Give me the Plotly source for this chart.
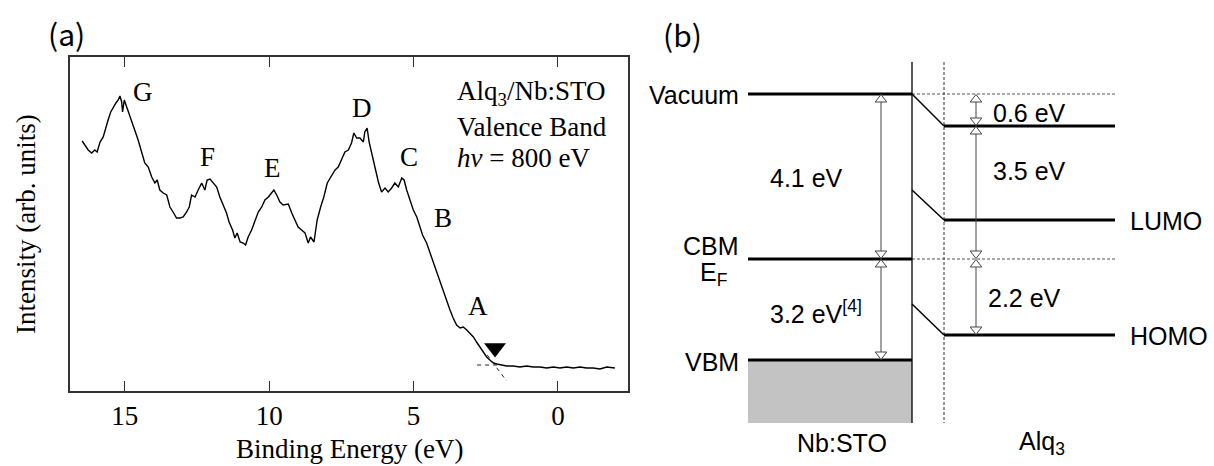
import plotly.graph_objects as go

# ---------------- Panel (a): valence-band spectrum ----------------
binding_energy = [16.48, 16.38, 16.27, 16.15, 16.04, 15.96, 15.86, 15.75, 15.66, 15.58,
                  15.49, 15.40, 15.31, 15.23, 15.17, 15.11, 15.08, 15.02, 14.96, 14.88,
                  14.77, 14.65, 14.54, 14.42, 14.31, 14.19, 14.07, 13.96, 13.88, 13.79,
                  13.67, 13.55, 13.44, 13.33, 13.21, 13.09, 12.98, 12.86, 12.77, 12.69,
                  12.57, 12.46, 12.34, 12.23, 12.15, 12.05, 11.94, 11.82, 11.71, 11.59,
                  11.48, 11.39, 11.27, 11.19, 11.11, 11.01, 10.90, 10.82, 10.73, 10.61,
                  10.50, 10.38, 10.26, 10.15, 10.03, 9.92, 9.84, 9.74, 9.63, 9.52,
                  9.34, 9.22, 9.11, 9.00, 8.88, 8.76, 8.65, 8.57, 8.45, 8.34,
                  8.22, 8.11, 7.99, 7.87, 7.72, 7.61, 7.49, 7.38, 7.26, 7.15,
                  7.07, 6.97, 6.86, 6.74, 6.69, 6.61, 6.54, 6.45, 6.34, 6.22,
                  6.11, 5.99, 5.88, 5.76, 5.65, 5.53, 5.41, 5.33, 5.24, 5.13,
                  5.01, 4.89, 4.78, 4.69, 4.55, 4.43, 4.32, 4.20, 4.09, 3.97,
                  3.86, 3.74, 3.63, 3.51, 3.39, 3.28, 3.16, 3.05, 2.93, 2.82,
                  2.70, 2.59, 2.47, 2.36, 2.24, 2.12, 1.95, 1.78, 1.55, 1.32,
                  1.08, 0.86, 0.62, 0.39, 0.16, -0.07, -0.30, -0.53, -0.76, -0.99,
                  -1.22, -1.45, -1.69, -1.97]
intensity = [251, 247, 242, 239, 242, 240, 250, 255, 265, 272,
             280, 285, 289, 292, 296, 290, 280, 292, 287, 280,
             270, 262, 252, 240, 229, 225, 215, 209, 212, 202,
             199, 197, 185, 180, 174, 174, 175, 180, 185, 197,
             195, 202, 209, 202, 212, 213, 209, 205, 195, 187,
             179, 170, 162, 154, 159, 150, 149, 147, 155, 162,
             170, 180, 185, 192, 195, 199, 202, 197, 190, 187,
             188, 179, 172, 165, 162, 159, 149, 155, 150, 172,
             185, 195, 209, 215, 222, 225, 232, 240, 242, 249,
             259, 254, 254, 250, 260, 264, 250, 239, 225, 210,
             200, 204, 200, 204, 209, 205, 214, 212, 202, 192,
             182, 175, 165, 157, 149, 139, 129, 120, 112, 102,
             92, 82, 74, 67, 64, 65, 62, 59, 55, 50,
             45, 40, 35, 32, 29, 28, 27, 26, 26, 25,
             26, 25, 25, 24, 25, 24, 25, 24, 25, 24,
             24, 23, 25, 24]

peak_labels = ["G", "F", "E", "D", "C", "B", "A"]
peak_label_energy = [14.38, 12.13, 9.89, 6.80, 5.15, 3.97, 2.78]
peak_label_intensity = [300, 235, 224, 284, 235, 174, 86]

onset_energy = [2.18]
onset_intensity = [44]
baseline_fit_energy = [2.80, 2.00]
baseline_fit_intensity = [27, 27]
edge_fit_energy = [2.45, 1.78]
edge_fit_intensity = [37, 11]

x_tick_values = [15, 10, 5, 0]
x_tick_labels = ["15", "10", "5", "0"]
info_lines = ["Alq<sub>3</sub>/Nb:STO", "Valence Band", "<i>hν</i> = 800 eV"]
info_intensity = [299, 265, 234]

# ---------------- Panel (b): energy-level diagram (schematic units) ----------------
sto_x = [748, 912]          # Nb:STO region
alq_x = [944, 1115]         # Alq3 region
interface_top, interface_bottom = 62, 423
vacuum_level = 94
cbm_level = 259
vbm_level = 360
alq_vacuum_level = 126
lumo_level = 220
homo_level = 335
lumo_bend_start = 190
homo_bend_start = 304
left_arrow_x = 881
right_arrow_x = 976
left_arrows = [(vacuum_level, cbm_level), (cbm_level, vbm_level)]
right_arrows = [(vacuum_level, alq_vacuum_level), (alq_vacuum_level, cbm_level), (cbm_level, homo_level)]

serif = "Liberation Serif, Times New Roman, serif"
sans = "Liberation Sans, Arial, sans-serif"

fig = go.Figure()

# spectrum
fig.add_trace(go.Scatter(x=binding_energy, y=intensity, mode="lines",
                         line=dict(color="black", width=1.4), xaxis="x", yaxis="y",
                         hoverinfo="skip", showlegend=False))
fig.add_trace(go.Scatter(x=baseline_fit_energy, y=baseline_fit_intensity, mode="lines",
                         line=dict(color="#222", width=1, dash="4px,4px"),
                         xaxis="x", yaxis="y", showlegend=False))
fig.add_trace(go.Scatter(x=edge_fit_energy, y=edge_fit_intensity, mode="lines",
                         line=dict(color="#222", width=1, dash="4px,4px"),
                         xaxis="x", yaxis="y", showlegend=False))
fig.add_trace(go.Scatter(x=onset_energy, y=onset_intensity, mode="markers",
                         marker=dict(symbol="triangle-down", size=19, color="black"),
                         xaxis="x", yaxis="y", showlegend=False))

for lab, ex, iy in zip(peak_labels, peak_label_energy, peak_label_intensity):
    fig.add_annotation(x=ex, y=iy, xref="x", yref="y", text=lab, showarrow=False,
                       xanchor="center", yanchor="middle",
                       font=dict(family=serif, size=27, color="black"))
for line, iy in zip(info_lines, info_intensity):
    fig.add_annotation(x=3.57, y=iy, xref="x", yref="y", text=line, showarrow=False,
                       xanchor="left", yanchor="middle",
                       font=dict(family=serif, size=27, color="black"))

# ---- panel (b) traces ----
def seg(xs, ys, color="black", width=3, dash=None):
    fig.add_trace(go.Scatter(x=xs, y=ys, mode="lines",
                             line=dict(color=color, width=width, dash=dash),
                             xaxis="x2", yaxis="y2", hoverinfo="skip", showlegend=False))

# grey valence band fill
fig.add_trace(go.Scatter(x=[sto_x[0], sto_x[1], sto_x[1], sto_x[0], sto_x[0]],
                         y=[vbm_level, vbm_level, interface_bottom, interface_bottom, vbm_level],
                         mode="lines", fill="toself", fillcolor="#c3c3c3",
                         line=dict(width=0, color="#c3c3c3"),
                         xaxis="x2", yaxis="y2", hoverinfo="skip", showlegend=False))
# dashed reference lines
seg([sto_x[1], alq_x[1]], [vacuum_level, vacuum_level], color="#555", width=1, dash="3px,2px")
seg([sto_x[1], alq_x[1]], [cbm_level, cbm_level], color="#555", width=1, dash="3px,2px")
seg([alq_x[0], alq_x[0]], [interface_top, interface_bottom], color="#333", width=1, dash="3px,2px")
# interface
seg([sto_x[1], sto_x[1]], [interface_top, interface_bottom], color="black", width=1.3)
# Nb:STO levels
seg(sto_x, [vacuum_level, vacuum_level])
seg(sto_x, [cbm_level, cbm_level])
seg(sto_x, [vbm_level, vbm_level])
# Alq3 levels with band bending
seg([sto_x[1], alq_x[0]], [vacuum_level, alq_vacuum_level], width=1.5)
seg([alq_x[0], alq_x[1]], [alq_vacuum_level, alq_vacuum_level])
seg([sto_x[1], alq_x[0]], [lumo_bend_start, lumo_level], width=1.5)
seg([alq_x[0], alq_x[1]], [lumo_level, lumo_level])
seg([sto_x[1], alq_x[0]], [homo_bend_start, homo_level], width=1.5)
seg([alq_x[0], alq_x[1]], [homo_level, homo_level])

# double arrows with open heads
head = 5.5
def double_arrow(xpos, y_top, y_bot):
    seg([xpos, xpos], [y_top + 2, y_bot - 2], color="#444", width=1)
    fig.add_trace(go.Scatter(x=[xpos], y=[y_top + head], mode="markers",
                             marker=dict(symbol="triangle-up", size=10, color="white",
                                         line=dict(color="#444", width=1)),
                             xaxis="x2", yaxis="y2", hoverinfo="skip", showlegend=False))
    fig.add_trace(go.Scatter(x=[xpos], y=[y_bot - head], mode="markers",
                             marker=dict(symbol="triangle-down", size=10, color="white",
                                         line=dict(color="#444", width=1)),
                             xaxis="x2", yaxis="y2", hoverinfo="skip", showlegend=False))

for a, b in left_arrows:
    double_arrow(left_arrow_x, a, b)
for a, b in right_arrows:
    double_arrow(right_arrow_x, a, b)

def btext(x, y, text, anchor="center", size=25):
    fig.add_annotation(x=x, y=y, xref="x2", yref="y2", text=text, showarrow=False,
                       xanchor=anchor, yanchor="middle",
                       font=dict(family=sans, size=size, color="black"))

btext(741, vacuum_level + 1, "Vacuum", "right")
btext(741, cbm_level - 13, "CBM", "right")
btext(713, cbm_level + 15, "E<sub>F</sub>", "center")
btext(741, vbm_level + 2, "VBM", "right")
btext(768, 178, "4.1 eV", "left")
btext(768, 312, "3.2 eV<sup>[4]</sup>", "left")
btext(991, 113, "0.6 eV", "left")
btext(991, 171, "3.5 eV", "left")
btext(986, 298, "2.2 eV", "left")
btext(1128, lumo_level + 1, "LUMO", "left")
btext(1128, homo_level + 1, "HOMO", "left")
btext(842, 443, "Nb:STO", "center")
btext(1042, 443, "Alq<sub>3</sub>", "center")

def ptext(x, y, text, family, size, angle=0):
    fig.add_annotation(x=x / 1214, y=1 - y / 466, xref="paper", yref="paper", text=text,
                       showarrow=False, xanchor="center", yanchor="middle", textangle=angle,
                       font=dict(family=family, size=size, color="black"))

# panel labels
ptext(66, 33, "(a)", "Noto Sans CJK JP", 30)
ptext(682, 34, "(b)", "Noto Sans CJK JP", 30)
# axis titles for (a)
ptext(26, 224, "Intensity (arb. units)", serif, 27, -90)
ptext(349, 449, "Binding Energy (eV)", serif, 27)

fig.update_layout(
    width=1214, height=466, margin=dict(l=0, r=0, t=0, b=0, autoexpand=False),
    paper_bgcolor="white", plot_bgcolor="rgba(0,0,0,0)", showlegend=False,
    xaxis=dict(domain=[70 / 1214, 628 / 1214], range=[16.9, -2.425],
               tickvals=x_tick_values, ticktext=x_tick_labels,
               ticks="inside", ticklen=10, tickwidth=1.3, tickcolor="#333",
               showline=True, linecolor="#333", linewidth=1.5, mirror="ticks",
               showgrid=False, zeroline=False,
               tickfont=dict(family=serif, size=27, color="black")),
    yaxis=dict(domain=[1 - 391 / 466, 1 - 57 / 466], range=[1, 335],
               showticklabels=False, ticks="", showline=True, linecolor="#333",
               linewidth=1.5, mirror=True, showgrid=False, zeroline=False),
    xaxis2=dict(domain=[640 / 1214, 1], range=[640, 1214], visible=False),
    yaxis2=dict(domain=[0, 1], range=[466, 0], visible=False, anchor="x2"),
)

fig.write_html("out.html", config={"displayModeBar": False},
               post_script="document.body.style.margin='0';")
